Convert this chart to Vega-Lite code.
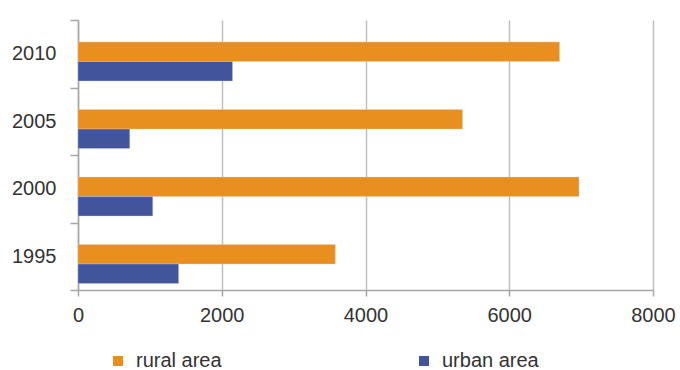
{
  "$schema": "https://vega.github.io/schema/vega-lite/v6.json",
  "width": 575,
  "height": 270,
  "autosize": "none",
  "padding": {"left": 78, "top": 20, "right": 27, "bottom": 80},
  "background": "white",
  "data": {
    "values": [
      {"year": "2010", "series": "rural area", "value": 6700},
      {"year": "2010", "series": "urban area", "value": 2150},
      {"year": "2005", "series": "rural area", "value": 5350},
      {"year": "2005", "series": "urban area", "value": 720},
      {"year": "2000", "series": "rural area", "value": 6970},
      {"year": "2000", "series": "urban area", "value": 1040},
      {"year": "1995", "series": "rural area", "value": 3580},
      {"year": "1995", "series": "urban area", "value": 1400}
    ]
  },
  "mark": {"type": "bar", "stroke": "#d9d9d9", "strokeWidth": 0.6, "strokeOpacity": 0.6},
  "encoding": {
    "y": {
      "field": "year", "type": "nominal", "sort": "descending",
      "scale": {"paddingInner": 0, "paddingOuter": 0},
      "axis": {
        "title": null, "domainColor": "#a6a6a6", "domainWidth": 1.5, "tickColor": "#a6a6a6", "tickWidth": 1.5,
        "tickSize": 8, "tickBand": "extent", "labelFontSize": 20, "labelFont": "Liberation Sans",
        "labelColor": "#333333", "labelPadding": 14, "grid": false
      }
    },
    "yOffset": {
      "field": "series", "type": "nominal",
      "scale": {"domain": ["rural area", "urban area"], "range": [22, 61], "paddingInner": 0, "paddingOuter": 0}
    },
    "x": {
      "field": "value", "type": "quantitative",
      "scale": {"domain": [0, 8000], "nice": false},
      "axis": {
        "title": null, "values": [0, 2000, 4000, 6000, 8000], "format": "d", "domainColor": "#a6a6a6", "domainWidth": 1.5,
        "tickColor": "#a6a6a6", "tickWidth": 1.5, "tickSize": 6, "labelFontSize": 20, "labelFont": "Liberation Sans",
        "labelColor": "#333333", "labelPadding": 9, "grid": true, "gridColor": "#bfbfbf", "gridWidth": 1.5,
        "labelFlush": false
      }
    },
    "color": {
      "field": "series", "type": "nominal",
      "scale": {"domain": ["rural area", "urban area"], "range": ["#e98f1f", "#41549c"]},
      "legend": {
        "title": null, "orient": "none", "legendX": 30, "legendY": 331, "direction": "horizontal",
        "columns": 2, "columnPadding": 192, "symbolType": "square", "symbolSize": 100, "symbolStrokeWidth": 0,
        "labelFontSize": 20, "labelFont": "Liberation Sans", "labelColor": "#333333", "labelOffset": 8
      }
    }
  },
  "config": {"view": {"stroke": null}}
}
